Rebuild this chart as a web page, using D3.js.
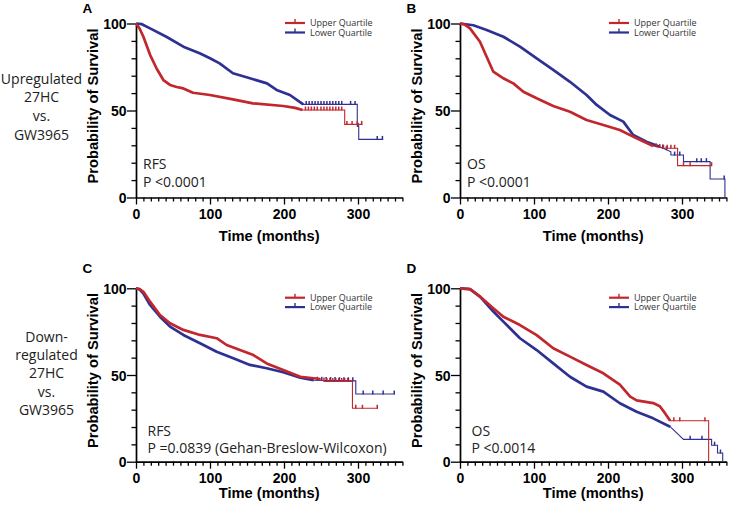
<!DOCTYPE html>
<html>
<head>
<meta charset="utf-8">
<script src="https://cdn.jsdelivr.net/npm/d3@7"></script>
<style>
  body { margin: 0; background: #fff; }
</style>
</head>
<body>
<div id="chart"></div>
<script>
const red = "#c1272d";
const blue = "#2e3192";

// texts
const panelLetters = ["A", "B", "C", "D"];
const endpoints = ["RFS", "OS", "RFS", "OS"];
const pValues = ["P <0.0001", "P <0.0001", "P =0.0839 (Gehan-Breslow-Wilcoxon)", "P <0.0014"];
const legendLabels = ["Upper Quartile", "Lower Quartile"];
const rowLabels = [
  ["Upregulated", "27HC", "vs.", "GW3965"],
  ["Down-", "regulated", "27HC", "vs.", "GW3965"]
];
const xTickLabels = [0, 100, 200, 300];
const yTickLabels = [0, 50, 100];
const xMax = 360;

// A: upregulated, RFS  (time in months, survival in %)
const aRedT = [0, 5, 10, 19, 28, 37, 46, 55, 64, 77, 100, 131, 158, 199, 215, 225, 282, 282, 306];
const aRedS = [100, 97, 92.4, 82, 74, 67.5, 64.7, 63.5, 62.7, 60.2, 58.9, 56.4, 54.1, 52.6, 51.5, 50.3, 50.3, 42, 42];
const aRedCens = [229, 233, 237, 241, 245, 250, 254, 258, 262, 266, 270, 274, 278, 285, 292, 299, 305];
const aBlueT = [0, 8, 19, 41, 64, 86, 100, 113, 131, 154, 177, 190, 208, 226, 299, 299, 301, 301, 334];
const aBlueS = [100, 99.6, 97.2, 92.4, 86.7, 82.9, 80, 77.1, 71.4, 68.5, 65.6, 61.8, 58.9, 53.5, 53.5, 41, 41, 33.4, 33.4];
const aBlueCens = [230, 234, 238, 242, 246, 250, 254, 258, 262, 266, 270, 274, 278, 290, 296, 300, 326, 333];

// B: upregulated, OS
const bRedT = [0, 6, 13.5, 27, 36, 45, 58.6, 72, 85.6, 103.6, 126, 148.6, 171, 193.7, 216, 238.7, 261, 275, 294, 294, 340];
const bRedS = [100, 99.5, 97.2, 89.5, 80.9, 72.3, 68.5, 65.6, 60.8, 57, 52.6, 49.3, 44.5, 41.7, 38.8, 34, 29.6, 28.3, 28.3, 18.3, 18.3];
const bRedCens = [265, 270, 275, 280, 285, 290, 302, 311, 340];
const bBlueT = [0, 18, 36, 58.6, 81, 103.6, 126, 148.6, 171, 184.7, 202.7, 220.7, 234, 252, 270, 285, 285, 302, 302, 338, 338, 358, 358];
const bBlueS = [100, 99, 96.3, 92.4, 86.7, 80, 73.3, 66.5, 58.9, 53.2, 47.4, 43.6, 35.9, 32, 29.2, 26.3, 24.4, 24.4, 20.6, 20.6, 10.6, 10.6, 0];
const bBlueCens = [274, 279, 290, 297, 320, 326, 333, 357];

// C: downregulated, RFS
const cRedT = [0, 5, 10, 19, 32.4, 46, 64, 86.5, 109, 122.5, 140.5, 158.6, 176.6, 199, 222, 249, 255, 292.5, 292.5, 327];
const cRedS = [100, 99.5, 98, 92.3, 84.6, 79.8, 76, 73.1, 71.2, 67.3, 64.4, 61.5, 56.7, 52.9, 49, 47.7, 46.3, 46.3, 30.8, 30.8];
const cRedCens = [254, 258, 262, 266, 270, 274, 278, 282, 286, 297, 306, 326];
const cBlueT = [0, 5, 10, 19, 32.4, 46, 64, 86.5, 109, 131.5, 154, 176.6, 199, 222, 240, 297, 297, 349];
const cBlueS = [100, 99.3, 97, 90.4, 83.6, 77.9, 73.1, 68.3, 63.4, 59.6, 55.8, 53.9, 51.6, 48.4, 47, 46.6, 39, 39];
const cBlueCens = [245, 251, 257, 263, 269, 275, 281, 287, 293, 307, 320, 334, 349];

// D: downregulated, OS
const dRedT = [0, 13.5, 27, 45, 58.6, 81, 103.6, 126, 148.6, 171, 193.7, 216, 230, 238.7, 261, 270, 277, 284, 336, 336];
const dRedS = [100, 99.5, 95.2, 88.5, 83.6, 78.8, 73, 65.4, 60.6, 55.8, 51, 44.5, 37.5, 35.4, 33.8, 32, 28, 23.6, 23.6, 0];
const dRedCens = [289, 297, 331];
const dBlueT = [0, 13.5, 27, 45, 58.6, 81, 103.6, 126, 148.6, 171, 193.7, 216, 238.7, 261, 284, 302, 340, 340, 348, 348, 355, 355];
const dBlueS = [100, 99.5, 95.2, 86.6, 80.8, 71.2, 64.4, 56.7, 49, 43.3, 40.4, 33.7, 28.8, 25, 20.2, 12.9, 12.9, 9.5, 9.5, 5, 5, 0];
const dBlueCens = [311, 327, 344, 352];

// where the dense (thick looking) part of each curve ends
const thickUntil = [[225, 226], [261, 270], [250, 240], [284, 295]];

const curves = [
  [{ t: aRedT, s: aRedS, c: aRedCens }, { t: aBlueT, s: aBlueS, c: aBlueCens }],
  [{ t: bRedT, s: bRedS, c: bRedCens }, { t: bBlueT, s: bBlueS, c: bBlueCens }],
  [{ t: cRedT, s: cRedS, c: cRedCens }, { t: cBlueT, s: cBlueS, c: cBlueCens }],
  [{ t: dRedT, s: dRedS, c: dRedCens }, { t: dBlueT, s: dBlueS, c: dBlueCens }]
];

const boldFont = "'Liberation Sans', Arial, sans-serif";
const textFont = "'Open Sans', 'Noto Sans', sans-serif";

const svg = d3.select("#chart").append("svg")
  .attr("width", 730)
  .attr("height", 511);

// row labels on the left
const rowGeo = [
  { cx: 41.5, y: 83.5, step: 18.8 },
  { cx: 46.5, y: 341.5, step: 18.4 }
];
rowLabels.forEach((lines, r) => {
  svg.append("g").selectAll("text")
    .data(lines)
    .enter()
    .append("text")
    .attr("x", rowGeo[r].cx)
    .attr("y", (d, i) => rowGeo[r].y + i * rowGeo[r].step)
    .attr("text-anchor", "middle")
    .attr("font-family", textFont)
    .attr("font-size", 14)
    .attr("fill", "#222")
    .text(d => d);
});

const geo = [
  { x0: 136, top: 23.5, bot: 197.5, row: 0 },
  { x0: 460, top: 23.5, bot: 197.5, row: 0 },
  { x0: 136, top: 288.3, bot: 461.7, row: 1 },
  { x0: 460, top: 288.3, bot: 461.7, row: 1 }
];

// survival value at time c on the drawn curve (after any drop at c)
function survAt(T, S, c) {
  let v = S[S.length - 1];
  for (let i = 0; i < T.length - 1; i++) {
    if (T[i + 1] > T[i] && c >= T[i] && c <= T[i + 1]) {
      v = S[i] + (S[i + 1] - S[i]) * (c - T[i]) / (T[i + 1] - T[i]);
    }
  }
  return v;
}

geo.forEach((p, k) => {
  const g = svg.append("g");
  const x = d3.scaleLinear().domain([0, xMax]).range([p.x0, p.x0 + xMax * 0.74]);
  const y = d3.scaleLinear().domain([0, 100]).range([p.bot, p.top]);

  // axes
  const xAxis = d3.axisBottom(x)
    .tickValues(d3.range(0, xMax + 1, 10))
    .tickSize(4)
    .tickSizeOuter(0)
    .tickFormat(d => xTickLabels.includes(d) ? d : "");
  g.append("g")
    .attr("transform", `translate(0,${p.bot})`)
    .call(xAxis)
    .attr("font-family", boldFont)
    .attr("font-size", 14)
    .attr("font-weight", "bold")
    .call(a => {
      a.select(".domain").attr("stroke-width", 1.7);
      a.selectAll(".tick line")
        .attr("stroke-width", 1.3)
        .attr("y2", d => d % 100 === 0 ? 7 : 4);
      a.selectAll(".tick text").attr("dy", null).attr("y", 21);
    });

  const yAxis = d3.axisLeft(y)
    .tickValues(d3.range(0, 101, 10))
    .tickSize(4.5)
    .tickSizeOuter(0)
    .tickFormat(d => yTickLabels.includes(d) ? d : "");
  g.append("g")
    .attr("transform", `translate(${p.x0},0)`)
    .call(yAxis)
    .attr("font-family", boldFont)
    .attr("font-size", 14)
    .attr("font-weight", "bold")
    .call(a => {
      a.select(".domain").attr("stroke-width", 1.7);
      a.selectAll(".tick line")
        .attr("stroke-width", 1.3)
        .attr("x2", d => d % 50 === 0 ? -9 : -4.5);
      a.selectAll(".tick text").attr("x", -9.5).attr("dy", "0.36em");
    });

  // axis titles
  g.append("text")
    .attr("x", (x.range()[0] + x.range()[1]) / 2)
    .attr("y", p.bot + (p.row === 0 ? 43.5 : 36.5))
    .attr("text-anchor", "middle")
    .attr("font-family", boldFont)
    .attr("font-size", 14.7)
    .attr("font-weight", "bold")
    .text("Time (months)");

  g.append("text")
    .attr("transform", `translate(${p.x0 - 38.5},${(p.top + p.bot) / 2 - 4.5}) rotate(-90)`)
    .attr("text-anchor", "middle")
    .attr("font-family", boldFont)
    .attr("font-size", 14.7)
    .attr("font-weight", "bold")
    .text("Probability of Survival");

  // panel letter
  g.append("text")
    .attr("x", p.x0 - 53.5)
    .attr("y", p.row === 0 ? 12.7 : 273)
    .attr("font-family", boldFont)
    .attr("font-size", 13.5)
    .attr("font-weight", "bold")
    .text(panelLetters[k]);

  // endpoint and p value
  const ax = p.x0 + (p.row === 0 ? 7 : 11.5);
  g.append("text")
    .attr("x", ax)
    .attr("y", p.bot - (p.row === 0 ? 28.5 : 26))
    .attr("font-family", textFont)
    .attr("font-size", 14)
    .attr("fill", "#222")
    .text(endpoints[k]);
  g.append("text")
    .attr("x", ax)
    .attr("y", p.bot - (p.row === 0 ? 11 : 9))
    .attr("font-family", textFont)
    .attr("font-size", 14)
    .attr("fill", "#222")
    .text(pValues[k]);

  // curves: blue first, red on top
  const line = d3.line().x(d => x(d[0])).y(d => y(d[1]));
  [1, 0].forEach(j => {
    const cv = curves[k][j];
    const col = j === 0 ? red : blue;
    const pts = d3.zip(cv.t, cv.s);
    g.append("path")
      .attr("d", line(pts))
      .attr("fill", "none")
      .attr("stroke", col)
      .attr("stroke-width", 1.1);
    g.append("path")
      .attr("d", line(pts.filter(d => d[0] <= thickUntil[k][j])))
      .attr("fill", "none")
      .attr("stroke", col)
      .attr("stroke-width", 2.7)
      .attr("stroke-linejoin", "round");
    g.append("g").selectAll("line")
      .data(cv.c)
      .enter()
      .append("line")
      .attr("x1", d => x(d))
      .attr("x2", d => x(d))
      .attr("y1", d => y(survAt(cv.t, cv.s, d)) + 0.5)
      .attr("y2", d => y(survAt(cv.t, cv.s, d)) - 3.5)
      .attr("stroke", col)
      .attr("stroke-width", 1.5);
  });

  // legend
  const ly = p.row === 0 ? [p.top - 0.5, p.top + 9] : [p.top + 9.4, p.top + 18.8];
  legendLabels.forEach((lab, j) => {
    const col = j === 0 ? red : blue;
    g.append("line")
      .attr("x1", p.x0 + 149).attr("x2", p.x0 + 169)
      .attr("y1", ly[j]).attr("y2", ly[j])
      .attr("stroke", col).attr("stroke-width", 2.2);
    g.append("line")
      .attr("x1", p.x0 + 159).attr("x2", p.x0 + 159)
      .attr("y1", ly[j]).attr("y2", ly[j] - 4)
      .attr("stroke", col).attr("stroke-width", 1.4);
    g.append("text")
      .attr("x", p.x0 + 174)
      .attr("y", ly[j])
      .attr("dy", "0.35em")
      .attr("font-family", textFont)
      .attr("font-size", 9)
      .attr("fill", "#333")
      .text(lab);
  });
});
</script>
</body>
</html>
